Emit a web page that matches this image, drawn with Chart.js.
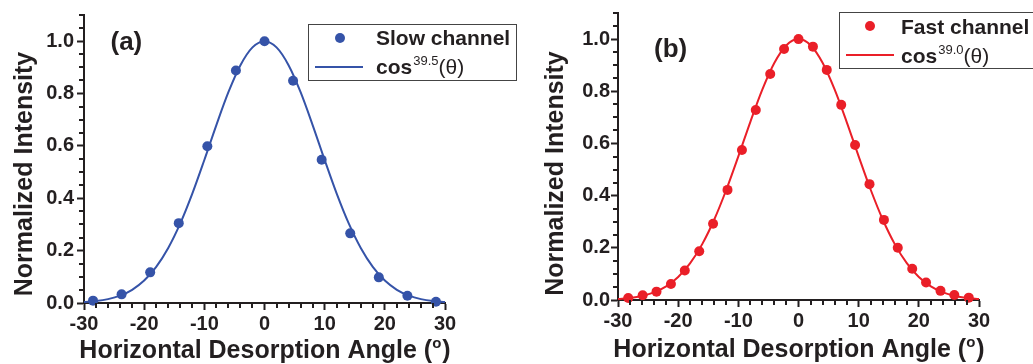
<!DOCTYPE html>
<html><head><meta charset="utf-8">
<script src="https://cdn.jsdelivr.net/npm/chart.js@4.4.1/dist/chart.umd.min.js"></script>
<style>
html,body{margin:0;padding:0;background:#fff;width:1033px;height:364px;overflow:hidden}
#ca{position:absolute;left:0;top:0}
#cb{position:absolute;left:517px;top:0}
</style></head><body>
<canvas id="ca" width="517" height="364"></canvas>
<canvas id="cb" width="516" height="364"></canvas>
<script>
// ---- data ----
const slowAngles = [-28.5, -23.75, -19, -14.25, -9.5, -4.75, 0, 4.75, 9.5, 14.25, 19, 23.75, 28.5];
const slowIntensity = [0.009, 0.033, 0.117, 0.305, 0.599, 0.888, 1.0, 0.849, 0.547, 0.266, 0.098, 0.028, 0.005];
const fastAngles = [-28.3, -25.9, -23.6, -21.2, -18.9, -16.5, -14.2, -11.8, -9.4, -7.1, -4.7, -2.4, 0, 2.4, 4.7, 7.1, 9.4, 11.8, 14.2, 16.5, 18.9, 21.2, 23.6, 25.9, 28.3];
const fastIntensity = [0.008, 0.018, 0.032, 0.061, 0.113, 0.187, 0.292, 0.422, 0.575, 0.728, 0.866, 0.962, 1.0, 0.971, 0.882, 0.748, 0.594, 0.444, 0.307, 0.200, 0.120, 0.067, 0.035, 0.019, 0.009];
const fitAngles = [-30, -28, -26, -24, -22, -20, -18, -16, -14, -12, -10, -8, -6, -4, -2, 0, 2, 4, 6, 8, 10, 12, 14, 16, 18, 20, 22, 24, 26, 28, 30];
const fitSlow = [0.0034, 0.0073, 0.0148, 0.0281, 0.0505, 0.0857, 0.1378, 0.2100, 0.3039, 0.4178, 0.5462, 0.6796, 0.8050, 0.9082, 0.9762, 1.0, 0.9762, 0.9082, 0.8050, 0.6796, 0.5462, 0.4178, 0.3039, 0.2100, 0.1378, 0.0857, 0.0505, 0.0281, 0.0148, 0.0073, 0.0034];
const fitFast = [0.0037, 0.0078, 0.0156, 0.0294, 0.0524, 0.0884, 0.1413, 0.2142, 0.3085, 0.4225, 0.5504, 0.6829, 0.8072, 0.9093, 0.9765, 1.0, 0.9765, 0.9093, 0.8072, 0.6829, 0.5504, 0.4225, 0.3085, 0.2142, 0.1413, 0.0884, 0.0524, 0.0294, 0.0156, 0.0078, 0.0037];
const xTickValues = [-30, -20, -10, 0, 10, 20, 30];
const yTickValues = [0, 0.2, 0.4, 0.6, 0.8, 1.0];
const seriesNames = ['Slow channel', 'Fast channel'];
const fitExponents = ['39.5', '39.0'];
const panelLabels = ['(a)', '(b)'];
const xTitle = 'Horizontal Desorption Angle (';
const yTitle = 'Normalized Intensity';

// ---- style ----
const FAM = '"Liberation Sans", Arial, Helvetica, sans-serif';
const TXT = '#231f20';
const AXIS = '#231f20';
const BLUE = '#3553a8';
const RED = '#ea1f28';

function pts(xs, ys) { return xs.map((x, i) => ({x: x, y: ys[i]})); }

function ln(ctx, x1, y1, x2, y2) { ctx.beginPath(); ctx.moveTo(x1, y1); ctx.lineTo(x2, y2); ctx.stroke(); }

const deco = {
  id: 'deco',
  afterDraw(chart, args, o) {
    const ctx = chart.ctx, xs = chart.scales.x, ys = chart.scales.y;
    ctx.save();
    // minor ticks
    ctx.strokeStyle = AXIS; ctx.lineWidth = 2;
    const ax = chart.chartArea;
    for (let v = -30; v <= 30.001; v += 2) {
      if (Math.abs(v % 10) < 1e-6) continue;
      const px = Math.round(xs.getPixelForValue(v));
      ln(ctx, px, ax.bottom, px, ax.bottom + 5);
    }
    for (let k = 0; k <= 22; k++) {
      if (k % 4 === 0 && k <= 20) continue;
      const py = Math.round(ys.getPixelForValue(k * 0.05));
      ln(ctx, ax.left - 5, py, ax.left, py);
    }
    // axis titles
    ctx.fillStyle = TXT;
    ctx.textBaseline = 'alphabetic';
    ctx.font = 'bold 25px ' + FAM;
    const w1 = ctx.measureText(xTitle).width;
    ctx.font = 'bold 15px ' + FAM;
    const w2 = ctx.measureText('o').width;
    ctx.font = 'bold 25px ' + FAM;
    const w3 = ctx.measureText(')').width;
    const tot = w1 + w2 + 1 + w3;
    let x0 = o.xtX - tot / 2;
    ctx.textAlign = 'left';
    ctx.fillText(xTitle, x0, o.xtY);
    ctx.font = 'bold 15px ' + FAM;
    ctx.fillText('o', x0 + w1, o.xtY - 10);
    ctx.font = 'bold 25px ' + FAM;
    ctx.fillText(')', x0 + w1 + w2 + 1, o.xtY);
    // y title
    ctx.save();
    ctx.translate(o.ytX, o.ytY);
    ctx.rotate(-Math.PI / 2);
    ctx.textAlign = 'center';
    ctx.font = 'bold 25px ' + FAM;
    ctx.fillText(yTitle, 0, 0);
    ctx.restore();
    // panel label
    ctx.textAlign = 'left';
    ctx.font = 'bold 26px ' + FAM;
    ctx.fillText(o.label, o.lbX, o.lbY);
    // legend
    const L = o.legend;
    ctx.strokeStyle = '#444'; ctx.lineWidth = 1;
    ctx.strokeRect(L.x + 0.5, L.y + 0.5, L.w, L.h);
    ctx.fillStyle = o.color;
    ctx.beginPath(); ctx.arc(L.mx, L.my, 5, 0, Math.PI * 2); ctx.fill();
    ctx.strokeStyle = o.color; ctx.lineWidth = 2;
    ln(ctx, L.lx1, L.ly, L.lx2, L.ly);
    ctx.fillStyle = TXT;
    ctx.font = 'bold 21px ' + FAM;
    ctx.fillText(o.name, L.tx, L.b1);
    ctx.fillText('cos', L.tx, L.b2);
    const cw = ctx.measureText('cos').width;
    ctx.font = '13px ' + FAM;
    ctx.fillText(o.exp, L.tx + cw + 1, L.b2 - 9);
    const ew = ctx.measureText(o.exp).width;
    ctx.font = '21px ' + FAM;
    ctx.fillText('(\u03B8)', L.tx + cw + ew + 1, L.b2);
    ctx.restore();
  }
};

function makeChart(id, dataPts, fitPts, color, lay, decoOpts) {
  return new Chart(document.getElementById(id), {
    type: 'scatter',
    data: {
      datasets: [
        {data: dataPts, backgroundColor: color, borderColor: color, pointRadius: 5, pointHoverRadius: 5, pointBorderWidth: 0, showLine: false, clip: false},
        {data: fitPts, borderColor: color, backgroundColor: color, borderWidth: 2, pointRadius: 0, showLine: true, cubicInterpolationMode: 'monotone', clip: false}
      ]
    },
    options: {
      responsive: false, animation: false, devicePixelRatio: 1,
      layout: {padding: {left: 0, right: lay.right, top: lay.top, bottom: 0}},
      plugins: {legend: {display: false}, tooltip: {enabled: false}, deco: decoOpts},
      events: [],
      scales: {
        x: {
          type: 'linear', min: -30, max: 30,
          afterBuildTicks: s => { s.ticks = xTickValues.map(v => ({value: v})); },
          afterFit: s => { s.height = lay.xh; },
          ticks: {font: {family: FAM, size: 20, weight: 'bold'}, color: TXT, padding: 2, maxRotation: 0, autoSkip: false,
                  callback: v => String(v)},
          grid: {drawOnChartArea: false, drawTicks: true, tickLength: 7, tickWidth: 2, tickColor: AXIS},
          border: {display: true, color: AXIS, width: 2}
        },
        y: {
          type: 'linear', min: 0, max: 1.1,
          afterBuildTicks: s => { s.ticks = yTickValues.map(v => ({value: v})); },
          afterFit: s => { s.width = lay.yw; },
          ticks: {font: {family: FAM, size: 20, weight: 'bold'}, color: TXT, padding: lay.yp, autoSkip: false,
                  callback: v => Number(v).toFixed(1)},
          grid: {drawOnChartArea: false, drawTicks: true, tickLength: 7, tickWidth: 2, tickColor: AXIS},
          border: {display: true, color: AXIS, width: 2}
        }
      }
    },
    plugins: [deco]
  });
}

makeChart('ca', pts(slowAngles, slowIntensity), pts(fitAngles, fitSlow), BLUE,
  {right: 72, top: 13, xh: 61, yw: 84, yp: 3},
  {xtX: 265, xtY: 358, ytX: 31.5, ytY: 174, label: panelLabels[0], lbX: 110.5, lbY: 50, color: BLUE,
   name: seriesNames[0], exp: fitExponents[0],
   legend: {x: 308, y: 24, w: 208, h: 56, mx: 340, my: 38, lx1: 315, lx2: 363, ly: 67, tx: 376, b1: 45, b2: 74}});

makeChart('cb', pts(fastAngles, fastIntensity), pts(fitAngles, fitFast), RED,
  {right: 54, top: 10, xh: 64, yw: 101, yp: 1},
  {xtX: 282, xtY: 357, ytX: 46, ytY: 173.5, label: panelLabels[1], lbX: 137, lbY: 57, color: RED,
   name: seriesNames[1], exp: fitExponents[1],
   legend: {x: 322, y: 12, w: 220, h: 56, mx: 353, my: 26, lx1: 329, lx2: 377, ly: 55, tx: 384, b1: 33.5, b2: 63}});
</script>
</body></html>
